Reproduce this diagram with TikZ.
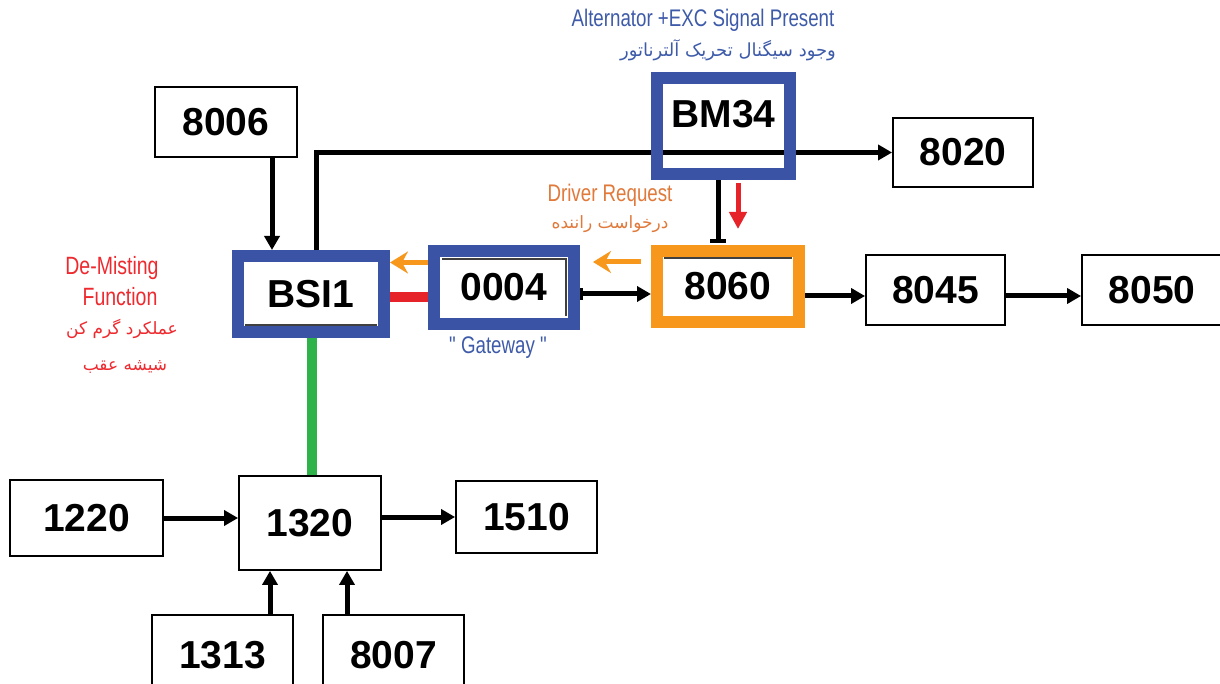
\documentclass[tikz,border=0pt]{standalone}
\usepackage{fontspec}
\setmainfont{Liberation Sans}
\newfontfamily\labfont{Liberation Sans}[FakeStretch=0.78]
\newfontfamily\arabicfont[Script=Arabic]{DejaVu Sans}
\TeXXeTstate=1
\usetikzlibrary{arrows.meta,calc,backgrounds}
\definecolor{fblue}{HTML}{3A53A4}
\definecolor{forange}{HTML}{F7981D}
\definecolor{fred}{HTML}{E52329}
\definecolor{fgreen}{HTML}{2EB34B}
\definecolor{lblue}{HTML}{3E5BA9}
\definecolor{lorange}{HTML}{E0793A}
\definecolor{lred}{HTML}{EE2A2F}
\newcommand{\numfnt}{\fontsize{39}{40}\selectfont\bfseries}
\begin{document}
\begin{tikzpicture}[x=1pt,y=-1pt,
  box/.style={draw=black,line width=1.8pt,fill=white,inner sep=0pt,font=\numfnt},
  bluebox/.style={draw=fblue,line width=12pt,fill=white,inner sep=0pt,font=\numfnt},
  orbox/.style={draw=forange,line width=12pt,fill=white,inner sep=0pt,font=\numfnt},
  arr/.style={draw=black,line width=5pt,-{Triangle[length=14pt,width=15pt]}},
  oarr/.style={draw=forange,line width=5pt,-{Stealth[length=18pt,width=22pt,inset=6pt]}},
  rarr/.style={draw=fred,line width=5pt,-{Triangle[length=17pt,width=17pt]}},
  inner/.style={draw=black!75,line width=1.2pt},
  lab/.style={inner sep=0pt,font=\labfont\fontsize{24}{26}\selectfont},
  ar/.style={inner sep=0pt,font=\arabicfont\fontsize{17}{20}\selectfont}]
\useasboundingbox (0,0) rectangle (1220,684);
% boxes
\node[box,minimum width=142pt,minimum height=70pt] (n8006) at (226,122) {8006};
\node[bluebox,minimum width=146pt,minimum height=76pt] (bsi) at (311,294) {BSI1};
\node[bluebox,minimum width=140pt,minimum height=73pt] (n0004) at (504,287.5) {0004};
\node[orbox,minimum width=142pt,minimum height=71pt] (n8060) at (728,286.5) {8060};
\node[bluebox,fill=none,minimum width=133pt,minimum height=96pt] (bm) at (723.5,126) {\raisebox{24pt}{BM34}};
\node[box,minimum width=140pt,minimum height=69pt] (n8020) at (963,152.5) {8020};
\node[box,minimum width=139pt,minimum height=70pt] (n8045) at (935.5,290) {8045};
\node[box,minimum width=140pt,minimum height=70pt] (n8050) at (1152,290) {8050};
\node[box,minimum width=153pt,minimum height=76pt] (n1220) at (86.5,518) {1220};
\node[box,minimum width=142pt,minimum height=94pt] (n1320) at (310,523) {1320};
\node[box,minimum width=141pt,minimum height=72pt] (n1510) at (526.5,517) {1510};
\node[box,minimum width=141pt,minimum height=80pt] (n1313) at (222.5,655) {1313};
\node[box,minimum width=141pt,minimum height=80pt] (n8007) at (393.5,655) {8007};
% faint inner outlines of the original boxes
\draw[inner] ([shift={(13pt,13pt)}]bsi.south west) -- ([shift={(-13pt,13pt)}]bsi.south east);
\draw[inner] ([shift={(14pt,-14pt)}]n0004.north west) -- ([shift={(-14pt,-14pt)}]n0004.north east) -- ([shift={(-14pt,14pt)}]n0004.south east);
\draw[inner] ([shift={(13pt,-13pt)}]n8060.north west) -- ([shift={(-13pt,-13pt)}]n8060.north east);
% labels
\node[lab,text=lblue] (altlab) at (703,20) {Alternator +EXC Signal Present};
\node[ar,text=lblue,font=\arabicfont\fontsize{18}{20}\selectfont] (altfa) at (728,50) {\beginR وجود سیگنال تحریک آلترناتور\endR};
\node[lab,text=lorange] (drvlab) at (610,195) {Driver Request};
\node[ar,text=lorange] (drvfa) at (610,224) {\beginR درخواست راننده\endR};
\node[lab,text=lred,font=\labfont\fontsize{25}{26}\selectfont] (demis) at (112,268) {De-Misting};
\node[lab,text=lred,font=\labfont\fontsize{25}{26}\selectfont] (func) at (120,297) {Function};
\node[ar,text=lred] (demfa1) at (122,329) {\beginR عملکرد گرم کن\endR};
\node[ar,text=lred] (demfa2) at (125,367) {\beginR شیشه عقب\endR};
\node[lab,text=lblue] (gw) at (498,348) {" Gateway "};
% connectors
\begin{scope}[on background layer]
\fill[white] (0,0) rectangle (1220,684);
\draw[arr] ([xshift=46pt]n8006.south) -- ([xshift=46pt]n8006.south |- bsi.north);
\draw[arr] ([xshift=5pt]bsi.north) |- (n8020.west);
\draw[draw=black,line width=5pt,-{Bar[width=16pt,line width=4pt]}] ([xshift=-5.5pt]bm.south) -- ([xshift=-5.5pt,yshift=2pt]bm.south |- n8060.north);
\draw[rarr] ([xshift=14.5pt,yshift=-3pt]bm.south) -- ([xshift=10pt,yshift=16pt]n8060.north);
\coordinate (o1s) at ([xshift=-10pt,yshift=24.5pt]n8060.west);
\coordinate (o1e) at (o1s -| n0004.east);
\draw[oarr] (o1s) -- ([xshift=13pt]o1e);
\coordinate (o2s) at ([yshift=25pt]n0004.west);
\coordinate (o2e) at (o2s -| bsi.east);
\draw[oarr] (o2s) -- (o2e);
\draw[draw=fred,line width=10pt] ([yshift=-3pt]bsi.east) -- ([yshift=-3pt]bsi.east -| n0004.west);
\draw[draw=fgreen,line width=10pt] ([xshift=1pt]bsi.south) -- ([xshift=1pt]bsi.south |- n1320.north);
\draw[line width=5pt,{Bar[width=12pt,line width=2.5pt]}-{Triangle[length=14pt,width=15pt]}] ([yshift=-6.5pt]n0004.east) -- ([yshift=-6.5pt]n0004.east -| n8060.west);
\draw[arr] ([yshift=-9.5pt]n8060.east) -- ([yshift=-9.5pt]n8060.east -| n8045.west);
\draw[arr] ([yshift=-6pt]n8045.east) -- ([yshift=-6pt]n8045.east -| n8050.west);
\draw[arr] (n1220.east) -- (n1220.east -| n1320.west);
\draw[arr] (n1510.west -| n1320.east) -- (n1510.west);
\draw[arr] ([xshift=47.5pt]n1313.north) -- ([xshift=47.5pt]n1313.north |- n1320.south);
\draw[arr] ([xshift=-46.5pt]n8007.north) -- ([xshift=-46.5pt]n8007.north |- n1320.south);
\end{scope}
\end{tikzpicture}
\end{document}
